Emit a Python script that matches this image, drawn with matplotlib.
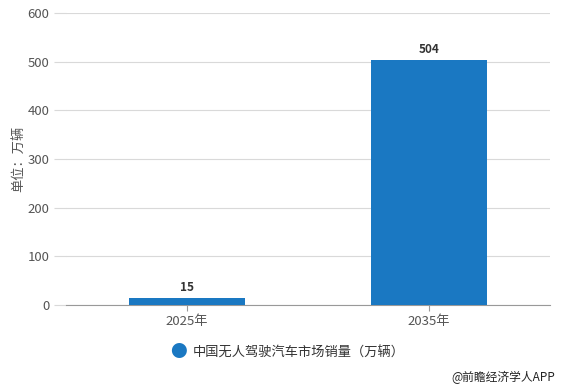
import matplotlib
matplotlib.use('Agg')
import matplotlib.pyplot as plt

plt.rcParams['font.family'] = ['Noto Sans CJK SC', 'DejaVu Sans']

years = ['2025年', '2035年']
sales = [15, 504]
series_name = '中国无人驾驶汽车市场销量（万辆）'

fig = plt.figure(figsize=(5.61, 3.89), dpi=100)
ax = fig.add_axes([66/561, 84/389, 484/561, 292/389])

x = range(len(years))
bars = ax.bar(x, sales, width=0.48, color='#1a78c2', zorder=3)
for b, v in zip(bars, sales):
    ax.text(b.get_x() + b.get_width()/2, v + 8, str(v), ha='center', va='bottom',
            fontsize=8.5, fontweight='bold', color='#333333')

ax.set_xlim(-0.5, 1.5)
ax.set_ylim(0, 600)
ax.set_yticks(range(0, 601, 100))
ax.set_xticks(list(x))
ax.set_xticklabels(years)
ax.grid(axis='y', color='#d9d9d9', linewidth=0.8, zorder=0)
for s in ['top', 'right', 'left']:
    ax.spines[s].set_visible(False)
ax.spines['bottom'].set_color('#999999')
ax.tick_params(axis='y', length=9, width=0.8, color='#d9d9d9', pad=3, labelsize=9.5, labelcolor='#555555')
ax.tick_params(axis='x', length=4, color='#999999', labelsize=9.5, labelcolor='#555555')
ax.set_ylabel('单位：万辆', fontsize=9.5, color='#555555', labelpad=2)

fig.text(178/561, 1 - 353/389, '●', color='#1a78c2', fontsize=12, ha='center', va='center')
fig.text(193/561, 1 - 353/389, series_name, color='#333333', fontsize=9.5, ha='left', va='center')
fig.text(555/561, 1 - 377/389, '@前瞻经济学人APP', color='#222222', fontsize=8.5, ha='right', va='center')

fig.savefig('out.png', dpi=100)
